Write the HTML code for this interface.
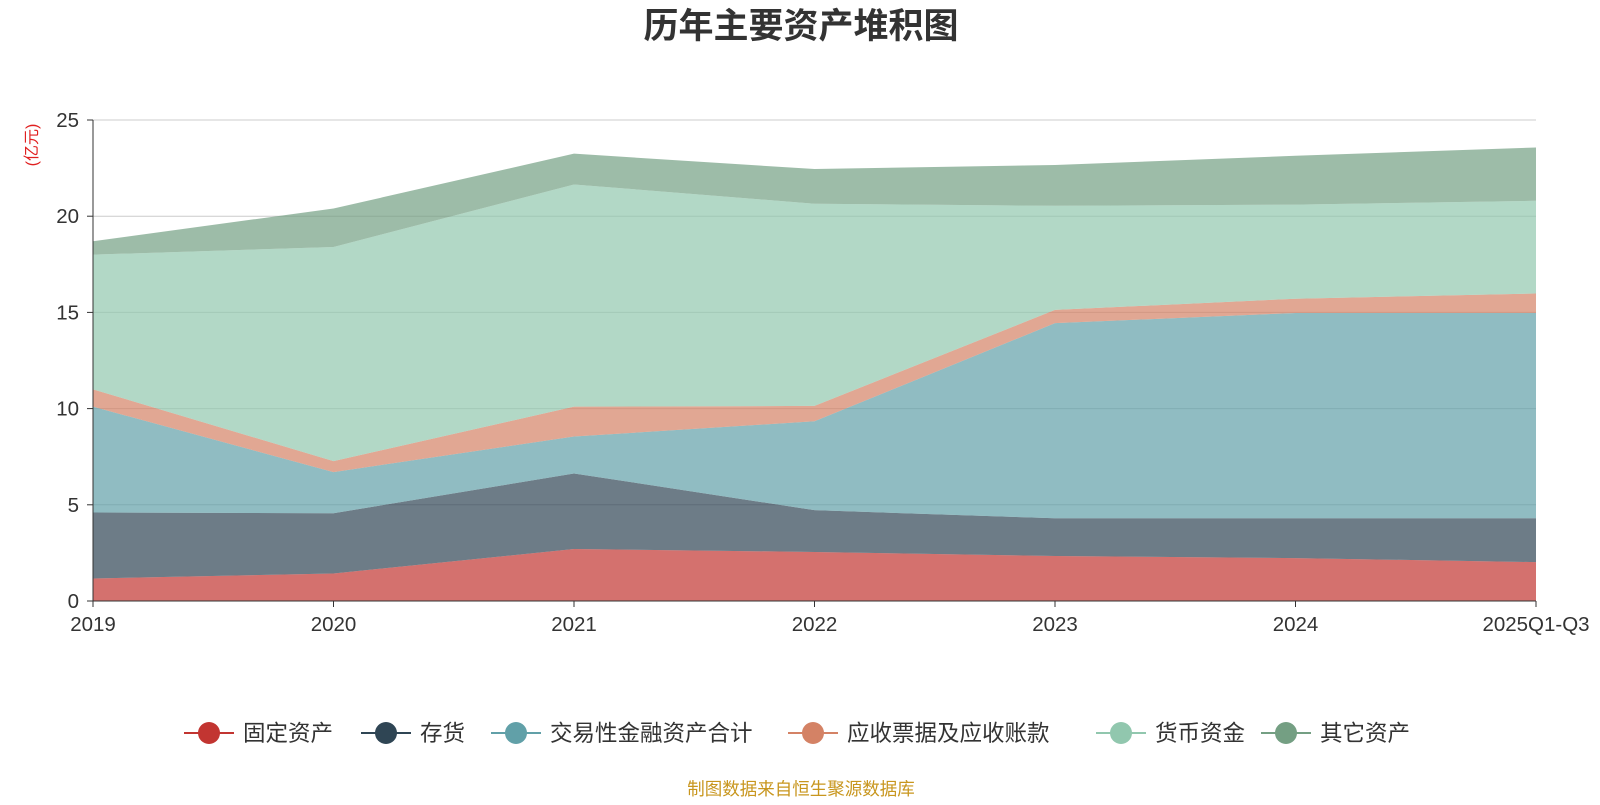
<!DOCTYPE html>
<html><head><meta charset="utf-8">
<style>
body{margin:0;background:#fff;width:1600px;height:800px;overflow:hidden;font-family:"Liberation Sans","Noto Sans CJK SC",sans-serif;}
</style></head>
<body>
<svg id="chart" width="1600" height="800" xmlns="http://www.w3.org/2000/svg" font-family="Liberation Sans, Noto Sans CJK SC, sans-serif">
<text x="801" y="38" text-anchor="middle" font-size="35" font-weight="bold" fill="#333">历年主要资产堆积图</text>
<text x="37" y="145" font-size="16" fill="#e02020" text-anchor="middle" transform="rotate(-90 37 145)">(亿元)</text>
<g id="grid"></g><g id="areas"></g><g id="axes"></g><g id="legend"></g>
<text x="801" y="795" text-anchor="middle" font-size="17.5" fill="#c8961e">制图数据来自恒生聚源数据库</text>
</svg>
<script>
const categories=["2019","2020","2021","2022","2023","2024","2025Q1-Q3"];
const seriesNames=["固定资产","存货","交易性金融资产合计","应收票据及应收账款","货币资金","其它资产"];
const fixedAssets=[1.17,1.43,2.7,2.55,2.34,2.23,2.02];
const inventory=[3.43,3.13,3.93,2.17,1.96,2.07,2.28];
const tradingAssets=[5.5,2.14,1.92,4.62,10.14,10.67,10.67];
const receivables=[0.9,0.57,1.55,0.8,0.69,0.74,1.01];
const cash=[7.0,11.13,11.55,10.51,5.41,4.89,4.82];
const otherAssets=[0.7,2.0,1.6,1.8,2.12,2.54,2.77];
const yTicks=[0,5,10,15,20,25];
const colors=["#c23531","#2f4554","#61a0a8","#d48265","#91c7ae","#749f83"];
const NS="http://www.w3.org/2000/svg";
const x0=93,x1=1536,yb=601,yt=120,ymax=25;
const xs=i=>x0+i*(x1-x0)/(categories.length-1);
const ys=v=>yb-v*(yb-yt)/ymax;
function mk(tag,attrs,parent){const e=document.createElementNS(NS,tag);for(const k in attrs)e.setAttribute(k,attrs[k]);parent.appendChild(e);return e;}
const grid=document.getElementById('grid'),areas=document.getElementById('areas'),axes=document.getElementById('axes'),legend=document.getElementById('legend');
yTicks.forEach(t=>{
 if(t>0){const l=mk('line',{x1:x0,x2:x1,y1:ys(t),y2:ys(t),stroke:'#ccc','stroke-width':1},grid);
 
 }
 const tx=mk('text',{x:x0-14,y:ys(t)+7,'text-anchor':'end','font-size':20.5,fill:'#333'},axes);tx.textContent=t;
 
 
 mk('line',{x1:x0-6,x2:x0,y1:ys(t),y2:ys(t),stroke:'#333'},axes);
});
const all=[fixedAssets,inventory,tradingAssets,receivables,cash,otherAssets];
let base=categories.map(()=>0);
all.forEach((s,k)=>{
 const top=base.map((b,i)=>b+s[i]);
 let d='M'+top.map((v,i)=>xs(i)+','+ys(v)).join(' L');
 for(let i=categories.length-1;i>=0;i--)d+=' L'+xs(i)+','+ys(base[i]);
 const p=mk('path',{d:d+'Z',fill:colors[k],'fill-opacity':0.7},areas);
 
 
 base=top;
});
mk('line',{x1:x0,x2:x0,y1:yt,y2:yb,stroke:'#333'},axes);
mk('line',{x1:x0,x2:x1,y1:yb,y2:yb,stroke:'#333'},axes);
categories.forEach((c,i)=>{
 mk('line',{x1:xs(i),x2:xs(i),y1:yb,y2:yb+6,stroke:'#333'},axes);
 const t=mk('text',{x:xs(i),y:yb+30,'text-anchor':'middle','font-size':20.5,fill:'#333'},axes);t.textContent=c;
 
 
});
const legX=[184,361,491,788,1096,1261];
seriesNames.forEach((n,k)=>{
 const g=mk('g',{},legend);
 
 
 const x=legX[k];
 mk('line',{x1:x,x2:x+50,y1:733,y2:733,stroke:colors[k],'stroke-width':2},g);
 mk('circle',{cx:x+25,cy:733,r:11,fill:colors[k]},g);
 const t=mk('text',{x:x+59,y:741,'font-size':22.5,fill:'#333'},g);t.textContent=n;
});
</script>
</body></html>
